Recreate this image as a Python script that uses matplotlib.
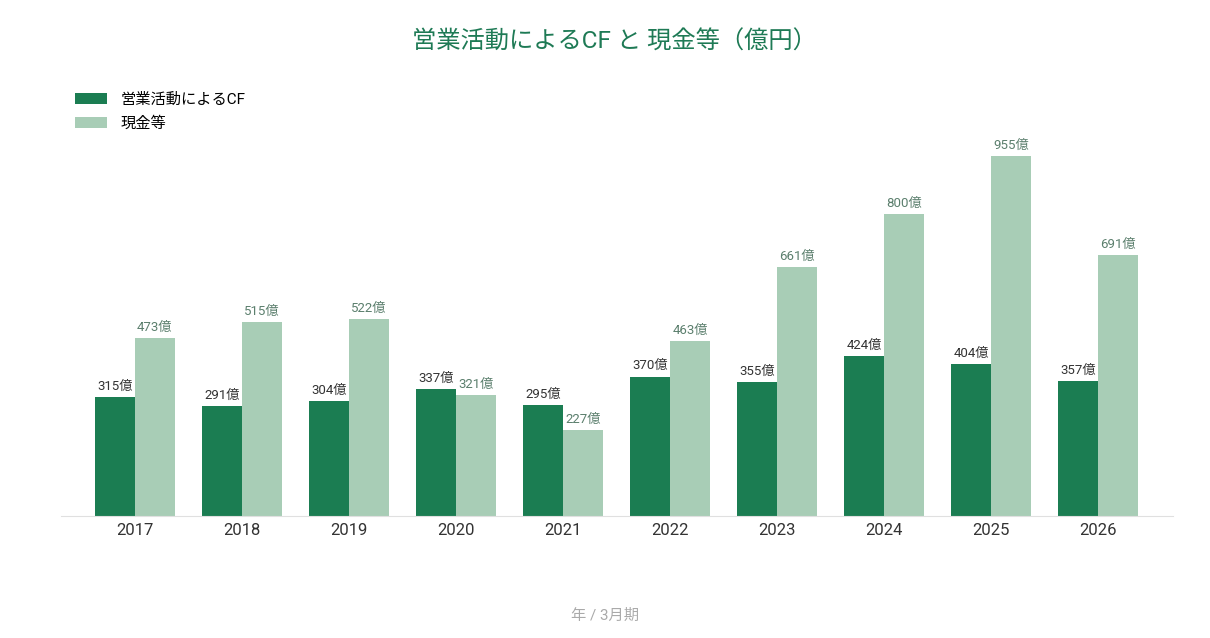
import matplotlib
matplotlib.use('Agg')
import matplotlib.pyplot as plt
import numpy as np

plt.rcParams['font.family'] = ['Roboto', 'Noto Sans CJK JP', 'DejaVu Sans']

years = ['2017', '2018', '2019', '2020', '2021', '2022', '2023', '2024', '2025', '2026']
op_cf = [315, 291, 304, 337, 295, 370, 355, 424, 404, 357]
cash = [473, 515, 522, 321, 227, 463, 661, 800, 955, 691]

dark = '#1b7d52'
light = '#a8cdb6'

fig = plt.figure(figsize=(12.1, 6.38), dpi=100)
ax = fig.add_axes([0.0504, 0.1912, 0.919, 0.591])

x = np.arange(len(years))
w = 0.375
b1 = ax.bar(x - w / 2, op_cf, w, color=dark, label='営業活動によるCF')
b2 = ax.bar(x + w / 2, cash, w, color=light, label='現金等')

for rect, v in zip(b1, op_cf):
    ax.text(rect.get_x() + rect.get_width() / 2, v + 11, f'{v}億', ha='center', va='bottom',
            fontsize=9.5, color='#333333')
for rect, v in zip(b2, cash):
    ax.text(rect.get_x() + rect.get_width() / 2, v + 11, f'{v}億', ha='center', va='bottom',
            fontsize=9.5, color='#5b7f6d')

ax.set_xlim(-0.69, 9.70)
ax.set_ylim(0, 1000)
ax.set_xticks(x)
ax.set_xticklabels(years, fontsize=12, color='#333333')
ax.tick_params(axis='x', length=0, pad=5)
ax.set_yticks([])
for s in ['top', 'right', 'left']:
    ax.spines[s].set_visible(False)
ax.spines['bottom'].set_color('#e0e0e0')

fig.text(0.508, 0.934, '営業活動によるCF と 現金等（億円）', ha='center', va='center',
         fontsize=17.5, color='#1e7a55')
fig.text(0.5, 0.035, '年 / 3月期', ha='center', va='center', fontsize=11, color='#aaaaaa')

ax.legend(loc='upper left', bbox_to_anchor=(0.062, 0.855), bbox_transform=fig.transFigure,
          frameon=False, fontsize=11, handlelength=2.1, handleheight=0.7,
          handletextpad=0.9, labelspacing=0.65, borderaxespad=0, borderpad=0)

fig.savefig('out.png', dpi=100)
